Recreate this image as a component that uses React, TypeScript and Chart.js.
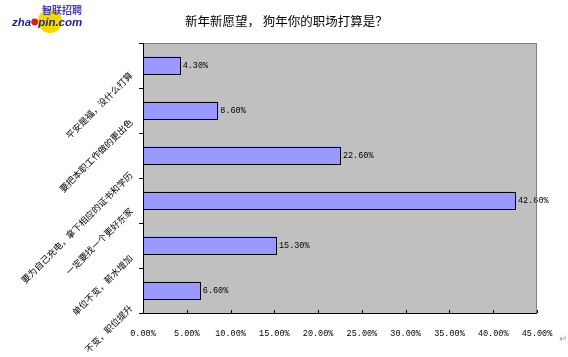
import React, { useEffect, useRef } from 'react';
import { Chart, registerables } from 'chart.js';

Chart.register(...registerables);

const categories = [
  '平安是福，没什么打算',
  '要把本职工作做的更出色',
  '要为自己充电，拿下相应的证书和学历',
  '一定要找一个更好东家',
  '单位不变，薪水增加',
  '不变，职位提升',
];
const values = [4.3, 8.6, 22.6, 42.6, 15.3, 6.6];
const xMin = 0;
const xMax = 45;
const xStep = 5;
const titleText = '新年新愿望， 狗年你的职场打算是？';

const CJK = '"Noto Sans CJK SC", "Noto Sans", sans-serif';
const MONO = '"Liberation Mono", "DejaVu Sans Mono", monospace';
// per-label vertical nudge of rotated category labels (layout only)
const labelNudge = [8, 10, 18, 9, 11, 16];

export default function App() {
  const ref = useRef<HTMLCanvasElement>(null);

  useEffect(() => {
    document.body.style.margin = '0';
    const canvas = ref.current;
    if (!canvas) return;

    const decor = {
      id: 'decor',
      beforeDraw(chart: any) {
        const { ctx, chartArea: a } = chart;
        ctx.save();
        ctx.fillStyle = '#ffffff';
        ctx.fillRect(0, 0, chart.width, chart.height);
        ctx.fillStyle = '#c0c0c0';
        ctx.fillRect(a.left, a.top, a.right - a.left, a.bottom - a.top);
        ctx.restore();
      },
      afterDatasetsDraw(chart: any) {
        const { ctx } = chart;
        const meta = chart.getDatasetMeta(0);
        ctx.save();
        // crisp black bar outlines
        ctx.strokeStyle = '#000';
        ctx.lineWidth = 1;
        meta.data.forEach((el: any) => {
          const x0 = Math.round(el.base) + 0.5;
          const x1 = Math.round(el.x) - 0.5;
          const y0 = Math.round(el.y - el.height / 2) + 0.5;
          const y1 = Math.round(el.y + el.height / 2) - 0.5;
          ctx.strokeRect(x0, y0, x1 - x0, y1 - y0);
        });
        ctx.font = `8.5px ${MONO}`;
        ctx.fillStyle = '#000';
        ctx.textAlign = 'left';
        ctx.textBaseline = 'middle';
        meta.data.forEach((el: any, i: number) => {
          ctx.fillText(values[i].toFixed(2) + '%', el.x + 2, el.y);
        });
        ctx.restore();
      },
      afterDraw(chart: any) {
        const { ctx, chartArea: a } = chart;
        const xs = chart.scales.x;
        const ys = chart.scales.y;
        ctx.save();
        // plot frame
        ctx.lineWidth = 1;
        ctx.strokeStyle = '#808080';
        ctx.strokeRect(a.left + 0.5, a.top + 0.5, a.right - a.left - 1, a.bottom - a.top);
        ctx.strokeStyle = '#000';
        ctx.beginPath();
        ctx.moveTo(a.left + 0.5, a.top);
        ctx.lineTo(a.left + 0.5, a.bottom + 0.5);
        ctx.lineTo(a.right, a.bottom + 0.5);
        ctx.stroke();
        // y ticks at category boundaries
        ctx.beginPath();
        for (let i = 0; i <= categories.length; i++) {
          const y = Math.round(ys.getPixelForValue(i - 0.5)) + 0.5;
          ctx.moveTo(a.left - 4, y);
          ctx.lineTo(a.left, y);
        }
        // x ticks
        for (let v = xMin; v <= xMax; v += xStep) {
          const x = Math.round(xs.getPixelForValue(v)) + 0.5;
          ctx.moveTo(x, a.bottom - 3);
          ctx.lineTo(x, a.bottom);
        }
        ctx.stroke();

        // rotated category labels
        ctx.font = `9px ${CJK}`;
        ctx.fillStyle = '#000';
        ctx.textAlign = 'right';
        ctx.textBaseline = 'middle';
        categories.forEach((c, i) => {
          const y = ys.getPixelForValue(i);
          ctx.save();
          ctx.translate(a.left - 12, y + labelNudge[i]);
          ctx.rotate(-Math.PI / 4);
          ctx.fillText(c, 0, 0);
          ctx.restore();
        });

        // title
        ctx.font = `12.5px ${CJK}`;
        ctx.textAlign = 'left';
        ctx.textBaseline = 'middle';
        ctx.fillStyle = '#000';
        ctx.fillText(titleText, 185, 21);

        // logo
        ctx.fillStyle = '#f5d800';
        ctx.beginPath();
        ctx.arc(50, 21, 12, 0, Math.PI * 2);
        ctx.fill();
        ctx.font = `bold 10px ${CJK}`;
        ctx.fillStyle = '#4a3fb0';
        ctx.textAlign = 'left';
        ctx.textBaseline = 'middle';
        ctx.fillText('智联招聘', 42, 10);
        ctx.font = `italic bold 11.5px "Liberation Sans", Arial, sans-serif`;
        ctx.fillStyle = '#1f1f8f';
        ctx.textBaseline = 'alphabetic';
        ctx.fillText('zha', 12, 26);
        const w1 = ctx.measureText('zha').width;
        ctx.fillStyle = '#d42020';
        ctx.beginPath();
        ctx.arc(12 + w1 + 3.5, 22, 3.4, 0, Math.PI * 2);
        ctx.fill();
        ctx.fillStyle = '#1f1f8f';
        ctx.fillText('pin.com', 12 + w1 + 7, 26);

        // paragraph mark
        ctx.font = `10px ${CJK}`;
        ctx.fillStyle = '#999';
        ctx.fillText('↵', 559, 342);
        ctx.restore();
      },
    };

    const chart = new Chart(canvas, {
      type: 'bar',
      data: {
        labels: categories,
        datasets: [
          {
            data: values,
            backgroundColor: '#9999ff',
            borderWidth: 0,
            barPercentage: 0.8,
            categoryPercentage: 0.5,
          },
        ],
      },
      options: {
        indexAxis: 'y',
        responsive: false,
        animation: false,
        layout: { padding: { top: 43, right: 31, left: 0, bottom: 0 } },
        plugins: {
          legend: { display: false },
          tooltip: { enabled: false },
          title: { display: false },
        },
        scales: {
          x: {
            min: xMin,
            max: xMax,
            grid: { display: false },
            border: { display: false },
            ticks: {
              stepSize: xStep,
              padding: 8,
              color: '#000',
              font: { family: MONO, size: 8.5 },
              maxRotation: 0,
              callback: (v: any) => Number(v).toFixed(2) + '%',
            },
            afterFit: (s: any) => {
              s.height = 44;
            },
          },
          y: {
            grid: { display: false },
            border: { display: false },
            ticks: { display: false },
            afterFit: (s: any) => {
              s.width = 143;
            },
          },
        },
      },
      plugins: [decor],
    });

    return () => chart.destroy();
  }, []);

  return (
    <div style={{ position: 'absolute', left: 0, top: 0, width: 568, height: 357 }}>
      <canvas ref={ref} width={568} height={357} style={{ width: 568, height: 357, display: 'block' }} />
    </div>
  );
}
